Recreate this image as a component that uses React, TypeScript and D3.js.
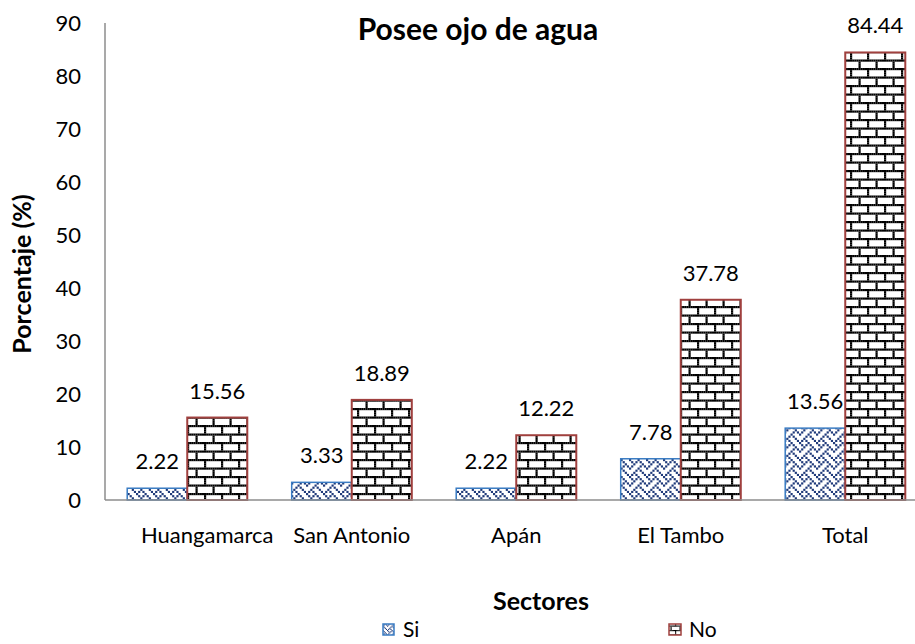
import React from "react";
import * as d3 from "d3";

const categories = ["Huangamarca", "San Antonio", "Apán", "El Tambo", "Total"];
const seriesNames = ["Si", "No"];
const siValues = [2.22, 3.33, 2.22, 7.78, 13.56];
const noValues = [15.56, 18.89, 12.22, 37.78, 84.44];
const yTicks = [0, 10, 20, 30, 40, 50, 60, 70, 80, 90];

const W = 915;
const H = 644;
const FONT = "Lato, 'Open Sans', sans-serif";

// 8x8 bit patterns (weave / horizontal brick)
const weaveBits = [0x88, 0x54, 0x22, 0x45, 0x88, 0x14, 0x22, 0x51];
const brickBits = [0xff, 0x80, 0x80, 0x80, 0xff, 0x08, 0x08, 0x08];

function BitPattern({ id, bits, color, size }: { id: string; bits: number[]; color: string; size: number }) {
  const cell = size / 8;
  const rects: JSX.Element[] = [];
  bits.forEach((b, r) => {
    for (let c = 0; c < 8; c++) {
      if (b & (0x80 >> c)) {
        rects.push(<rect key={`${r}-${c}`} x={c * cell} y={r * cell} width={cell + 0.05} height={cell + 0.05} fill={color} />);
      }
    }
  });
  return (
    <pattern id={id} patternUnits="userSpaceOnUse" width={size} height={size}>
      <rect width={size} height={size} fill="#fff" />
      {rects}
    </pattern>
  );
}

export default function App() {
  const left = 105;
  const right = 927.5;
  const top = 23;
  const bottom = 500;

  const x = d3.scaleBand<string>().domain(categories).range([left, right]).paddingInner(0.27).paddingOuter(0.135);
  const xs = d3.scaleBand<string>().domain(seriesNames).range([0, x.bandwidth()]).padding(0);
  const y = d3.scaleLinear().domain([0, 90]).range([bottom, top]);

  const siBorder = "#3a7cc3";
  const siFill = "#1f3a7a";
  const noBorder = "#a0403e";

  const series = [
    { name: "Si", values: siValues, fill: "url(#weave)", stroke: siBorder, sw: 1.5 },
    { name: "No", values: noValues, fill: "url(#brick)", stroke: noBorder, sw: 2 },
  ];

  return (
    <svg width={W} height={H} style={{ position: "absolute", left: 0, top: 0, background: "#fff" }} fontFamily={FONT}>
      <defs>
        <BitPattern id="weave" bits={weaveBits} color={siFill} size={17} />
        <BitPattern id="brick" bits={brickBits} color="#000" size={17} />
        <BitPattern id="weaveS" bits={weaveBits} color={siFill} size={9} />
        <BitPattern id="brickS" bits={brickBits} color="#000" size={9} />
      </defs>
      <rect width={W} height={H} fill="#fff" />

      {/* title */}
      <text x={478} y={40} textAnchor="middle" fontSize={30} fontWeight="bold" fill="#000">
        Posee ojo de agua
      </text>

      {/* y ticks */}
      {yTicks.map((t) => (
        <text key={t} x={81} y={y(t)} dy="0.36em" textAnchor="end" fontSize={22} fill="#000">
          {t}
        </text>
      ))}

      {/* bars */}
      {series.map((s) =>
        categories.map((c, i) => {
          const bx = (x(c) as number) + (xs(s.name) as number);
          const bw = xs.bandwidth();
          const v = s.values[i];
          return (
            <g key={s.name + c}>
              <rect x={bx} y={y(v)} width={bw} height={bottom - y(v)} fill={s.fill} stroke={s.stroke} strokeWidth={s.sw} />
              <text x={bx + bw / 2} y={y(v) - 19} textAnchor="middle" fontSize={22} fill="#000">
                {v.toFixed(2)}
              </text>
            </g>
          );
        })
      )}

      {/* axes */}
      <line x1={left} x2={W} y1={bottom} y2={bottom} stroke="#8c8c8c" strokeWidth={1.5} />
      <line x1={left} x2={left} y1={top} y2={bottom} stroke="#8c8c8c" strokeWidth={1.5} />

      {/* category labels */}
      {categories.map((c, i) => (
        <text key={c} x={(x(c) as number) + x.bandwidth() / 2 + (i === 0 ? 20 : 0)} y={543} textAnchor="middle" fontSize={22} fill="#000">
          {c}
        </text>
      ))}

      {/* axis titles */}
      <text x={541} y={610} textAnchor="middle" fontSize={25} fontWeight="bold" fill="#000">
        Sectores
      </text>
      <text transform={`translate(31,${274}) rotate(-90)`} textAnchor="middle" fontSize={25} fontWeight="bold" fill="#000">
        Porcentaje (%)
      </text>

      {/* legend */}
      <rect x={383} y={624} width={11} height={11} fill="url(#weaveS)" stroke={siBorder} strokeWidth={1.5} />
      <text x={403} y={637} fontSize={21} fill="#000">Si</text>
      <rect x={669} y={624} width={12} height={11} fill="url(#brickS)" stroke={noBorder} strokeWidth={1.5} />
      <text x={689} y={637} fontSize={21} fill="#000">No</text>
    </svg>
  );
}
